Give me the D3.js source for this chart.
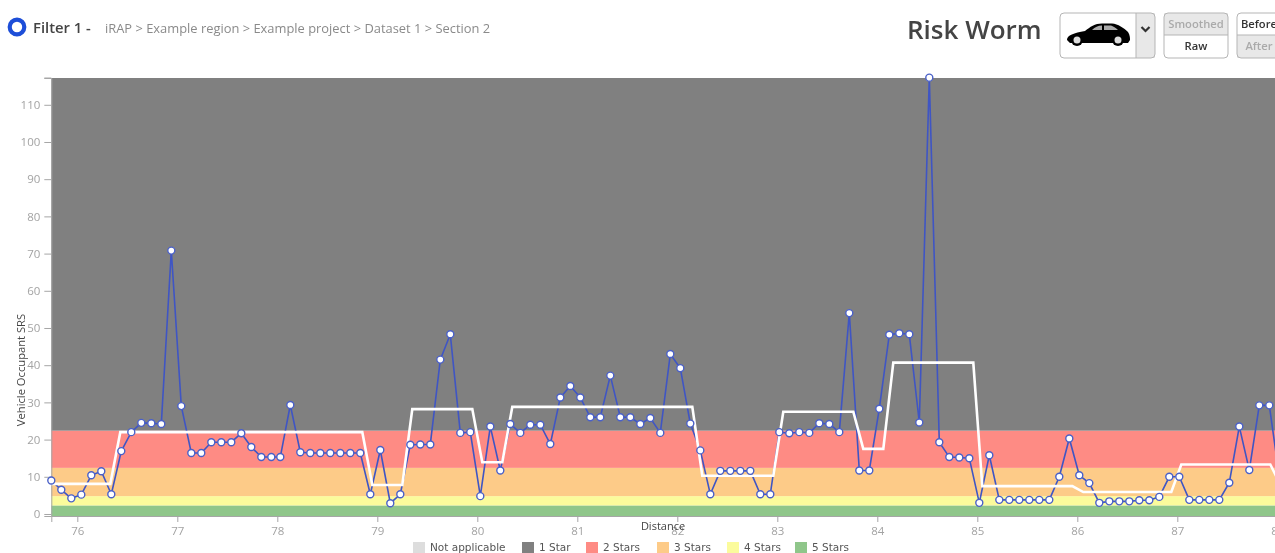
<!DOCTYPE html>
<html><head><meta charset="utf-8">
<script src="https://d3js.org/d3.v7.min.js"></script>
<style>
html,body{margin:0;padding:0;background:#fff;overflow:hidden}
svg{display:block;filter:blur(0.5px)}
text{font-family:"Open Sans",sans-serif}
</style></head><body>
<svg id="c" width="1275" height="553"></svg>
<script>
const rawDistance=[75.74,75.84,75.94,76.04,76.14,76.24,76.34,76.44,76.54,76.64,76.74,76.84,76.94,77.04,77.14,77.24,77.34,77.44,77.54,77.64,77.74,77.84,77.94,
78.03,78.13,78.23,78.33,78.43,78.53,78.63,78.73,78.83,78.93,79.03,79.13,79.23,79.33,79.43,79.53,79.63,79.73,79.83,79.93,80.03,80.13,80.23,80.33,80.43,80.53,80.63,80.73,80.83,80.93,81.03,81.13,81.23,81.33,81.43,81.53,81.63,81.73,81.83,81.93,82.03,82.13,82.23,82.33,82.43,82.53,82.63,82.73,82.83,82.93,
83.02,83.12,83.22,83.32,83.42,83.52,83.62,83.72,83.82,83.92,84.02,84.12,84.22,84.32,84.42,84.52,84.62,84.72,84.82,84.92,85.02,85.12,85.22,85.32,85.42,85.52,85.62,85.72,85.82,85.92,86.02,86.12,86.22,86.32,86.42,86.52,86.62,86.72,86.82,86.92,87.02,87.12,87.22,87.32,87.42,87.52,87.62,87.72,87.82,87.92,88.02];
const rawSrs=[9,6.5,4.2,5.2,10.4,11.5,5.3,16.9,22,24.5,
24.4,24.2,70.8,29,16.4,16.4,19.3,19.3,19.3,21.7,
18,15.3,15.3,15.3,29.3,16.6,16.4,16.4,16.4,16.4,
16.4,16.4,5.3,17.2,2.9,5.3,18.6,18.7,18.7,41.5,
48.3,21.8,22,4.8,23.5,11.7,24.2,21.8,24,24,
18.8,31.3,34.4,31.3,26,26,37.2,26,26,24.2,
25.8,21.8,43,39.2,24.3,17.1,5.3,11.6,11.6,11.6,
11.6,5.3,5.3,22,21.7,22,21.8,24.4,24.2,22,
54,11.7,11.7,28.3,48.2,48.6,48.3,24.6,117.3,19.3,
15.3,15.2,15,3,15.8,3.8,3.8,3.8,3.8,3.8,
3.8,10,20.3,10.4,8.3,3,3.4,3.4,3.4,3.7,
3.7,4.6,10,10,3.8,3.8,3.8,3.8,8.4,23.5,
11.8,29.2,29.2,10];
const smoothDistance=[75.74,76.33,76.43,78.85,78.95,79.25,79.35,79.95,80.05,80.25,80.35,82.15,82.25,82.96,83.06,83.76,83.86,84.06,84.16,84.96,85.05,85.95,86.06,86.94,87.04,87.93,88.03];
const smoothSrs=[8.1,8.1,22,22,7.8,7.8,28.2,28.2,13.9,13.9,28.8,28.8,10.3,10.3,27.5,27.5,17.5,17.5,40.7,40.7,7.5,7.5,5.9,5.9,13.3,13.3,8];
const bandNames=["5 Stars","4 Stars","3 Stars","2 Stars","1 Star"];
const bandUpper=[2.3,4.8,12.4,22.4,117.2];
const bandColors=["#8fc68a","#fbfb9c","#fdcb88","#fe8b84","#808080"];
const legendNames=["Not applicable","1 Star","2 Stars","3 Stars","4 Stars","5 Stars"];
const legendColors=["#dddddd","#808080","#fe8b84","#fdcb88","#fbfb9c","#8fc68a"];
const legendX=[413,522,586,657,727,795];
const xTicks=[76,77,78,79,80,81,82,83,84,85,86,87,88];
const yTicks=[0,10,20,30,40,50,60,70,80,90,100,110];
const breadcrumb="iRAP > Example region > Example project > Dataset 1 > Section 2";

const svg=d3.select("#c");
const x=d3.scaleLinear().domain([75.74,88.5]).range([51.3,1327.3]);
const y=d3.scaleLinear().domain([-0.54,117.2]).range([516,78]);

// bands
const lower=[-0.54,...bandUpper.slice(0,-1)];
svg.append("g").selectAll("rect").data(bandUpper).join("rect")
  .attr("x",x(75.74)).attr("width",x(88.5)-x(75.74))
  .attr("y",d=>y(d)).attr("height",(d,i)=>y(lower[i])-y(d))
  .attr("fill",(d,i)=>bandColors[i]);

// axes
const gx=svg.append("g").attr("transform",`translate(0,${y(-0.54)})`)
  .call(d3.axisBottom(x).tickValues(xTicks).tickFormat(d3.format("d")).tickSize(6).tickPadding(5));
const gy=svg.append("g").attr("transform",`translate(${x(75.74)},0)`)
  .call(d3.axisLeft(y).tickValues(yTicks).tickSize(7).tickPadding(4));
[gx,gy].forEach(g=>{
  g.selectAll("path,line").attr("stroke","#a6a6a6");
  g.selectAll("text").attr("fill","#a3a3a3").style("font-size","11.5px").style("font-family",'"Open Sans",sans-serif');
});
gy.append("line").attr("x1",-7).attr("x2",0).attr("y1",y(117.2)).attr("y2",y(117.2)).attr("stroke","#a6a6a6");

svg.append("text").attr("transform","translate(25,370) rotate(-90)").attr("text-anchor","middle")
  .attr("fill","#444").style("font-size","11.2px").text("Vehicle Occupant SRS");
svg.append("text").attr("x",663).attr("y",530).attr("text-anchor","middle")
  .attr("fill","#444").style("font-size","11px").text("Distance");

// lines
const smoothRows=smoothDistance.map((d,i)=>[d,smoothSrs[i]]);
const rawRows=rawDistance.map((d,i)=>[d,rawSrs[i]]);
const line=d3.line().x(d=>x(d[0])).y(d=>y(d[1]));
svg.append("path").attr("d",line(rawRows)).attr("fill","none").attr("stroke","#3f55c4").attr("stroke-width",1.6);
svg.append("path").attr("d",line(smoothRows)).attr("fill","none").attr("stroke","#fff").attr("stroke-width",2.6);
svg.append("g").selectAll("circle").data(rawRows).join("circle")
  .attr("cx",d=>x(d[0])).attr("cy",d=>y(d[1])).attr("r",3.5)
  .attr("fill","#fff").attr("stroke","#4a60c8").attr("stroke-width",1.4);

// legend
const lg=svg.append("g").selectAll("g").data(legendNames).join("g")
  .attr("transform",(d,i)=>`translate(${legendX[i]},542)`);
lg.append("rect").attr("width",12).attr("height",11).attr("fill",(d,i)=>legendColors[i]);
lg.append("text").attr("x",17).attr("y",9).attr("fill","#555").style("font-size","10.5px").style("font-family",'"DejaVu Sans",sans-serif').text(d=>d);

// header
svg.append("circle").attr("cx",17).attr("cy",27).attr("r",7.3).attr("fill","none").attr("stroke","#1d4ed8").attr("stroke-width",4.2);
svg.append("text").attr("x",33).attr("y",33).attr("fill","#444").style("font-size","14.8px").style("font-weight",600).text("Filter 1 -");
svg.append("text").attr("x",105).attr("y",33).attr("fill","#8a8a8a").style("font-size","12.9px").text(breadcrumb);
svg.append("text").attr("x",907).attr("y",39).attr("fill","#444").style("font-size","26px").style("font-weight",600).text("Risk Worm");

// car selector
const box=svg.append("g");
box.append("rect").attr("x",1136).attr("y",13).attr("width",19).attr("height",45).attr("fill","#e8e8e8");
box.append("rect").attr("x",1060).attr("y",13).attr("width",95).attr("height",45).attr("rx",4).attr("fill","none").attr("stroke","#b5b5b5");
box.append("line").attr("x1",1136).attr("x2",1136).attr("y1",13).attr("y2",58).attr("stroke","#b5b5b5");
box.append("path").attr("d","M1141.5 27 L1145.5 31 L1149.5 27").attr("fill","none").attr("stroke","#333").attr("stroke-width",2.2);
box.append("path").attr("fill","#000")
  .attr("d","M1067 40 C1067 35 1074 33 1085 31 C1090 27 1095 23.5 1102 23.5 L1112 23.5 C1118 24 1124 28 1128 32 C1130 35 1130 38 1130 40 L1128 43 L1070 43 Z");
box.append("path").attr("fill","#aaa").attr("d","M1092 30 C1095 27 1098 25.5 1102 25.5 L1102 30 Z M1104 25.5 L1111 25.5 C1113 26 1116 28 1118 30 L1104 30 Z");
[1077,1118].forEach(cx=>{
  box.append("circle").attr("cx",cx).attr("cy",40).attr("r",6).attr("fill","#000");
  box.append("circle").attr("cx",cx).attr("cy",40).attr("r",3.5).attr("fill","#ddd");
});

// toggles
function toggle(x0,w,top,bottom,activeTop){
  const g=svg.append("g");
  g.append("rect").attr("x",x0).attr("y",13).attr("width",w).attr("height",22).attr("fill",activeTop?"#fff":"#e8e8e8");
  g.append("rect").attr("x",x0).attr("y",35).attr("width",w).attr("height",23).attr("fill",activeTop?"#e8e8e8":"#fff");
  g.append("rect").attr("x",x0).attr("y",13).attr("width",w).attr("height",45).attr("rx",4).attr("fill","none").attr("stroke","#b5b5b5");
  g.append("line").attr("x1",x0).attr("x2",x0+w).attr("y1",35).attr("y2",35).attr("stroke","#b5b5b5");
  const cx=x0+w/2;
  g.append("text").attr("x",cx).attr("y",28).attr("text-anchor","middle").attr("fill",activeTop?"#333":"#aaa").style("font-size","11.2px").style("font-weight",600).text(top);
  g.append("text").attr("x",cx).attr("y",50).attr("text-anchor","middle").attr("fill",activeTop?"#aaa":"#333").style("font-size","11.2px").style("font-weight",600).text(bottom);
}
toggle(1164,64,"Smoothed","Raw",false);
toggle(1237,44,"Before","After",true);
</script></body></html>
